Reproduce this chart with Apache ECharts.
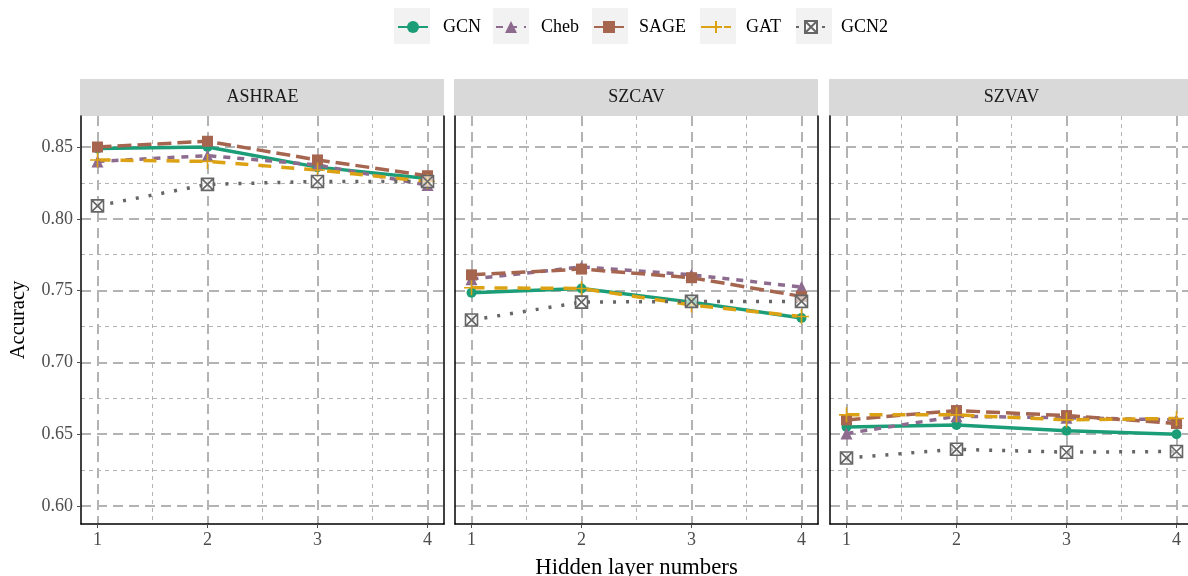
<!DOCTYPE html>
<html lang="en">
<head>
    <meta charset="UTF-8">
    <title>Accuracy vs hidden layers</title>
    <script src="https://cdn.jsdelivr.net/npm/echarts@6/dist/echarts.min.js"></script>
    <style>
        html, body { margin: 0; padding: 0; background: #fff; }
        #main { width: 1188px; height: 576px; }
    </style>
</head>
<body>
<div id="main"></div>
<script type="text/javascript">
    // data
    var hidden = [1, 2, 3, 4];
    var datasets = ['ASHRAE', 'SZCAV', 'SZVAV'];
    var models = ['GCN', 'Cheb', 'SAGE', 'GAT', 'GCN2'];

    var ashrae_gcn  = [0.849, 0.850, 0.836, 0.828];
    var ashrae_cheb = [0.840, 0.844, 0.8375, 0.8235];
    var ashrae_sage = [0.850, 0.854, 0.841, 0.830];
    var ashrae_gat  = [0.841, 0.840, 0.834, 0.826];
    var ashrae_gcn2 = [0.809, 0.824, 0.826, 0.826];

    var szcav_gcn  = [0.7485, 0.7515, 0.742, 0.731];
    var szcav_cheb = [0.758, 0.7665, 0.761, 0.7525];
    var szcav_sage = [0.761, 0.765, 0.759, 0.746];
    var szcav_gat  = [0.752, 0.7515, 0.740, 0.732];
    var szcav_gcn2 = [0.7295, 0.742, 0.7425, 0.7425];

    var szvav_gcn  = [0.655, 0.6565, 0.6525, 0.650];
    var szvav_cheb = [0.6505, 0.6625, 0.6615, 0.660];
    var szvav_sage = [0.660, 0.6665, 0.663, 0.6575];
    var szvav_gat  = [0.6635, 0.6635, 0.660, 0.661];
    var szvav_gcn2 = [0.6335, 0.6395, 0.6375, 0.638];

    var yMajor = [0.60, 0.65, 0.70, 0.75, 0.80, 0.85];
    var yMinor = [0.625, 0.675, 0.725, 0.775, 0.825];
    var xMinor = [1.5, 2.5, 3.5];

    var panelValues = [
        [ashrae_gcn, ashrae_cheb, ashrae_sage, ashrae_gat, ashrae_gcn2],
        [szcav_gcn, szcav_cheb, szcav_sage, szcav_gat, szcav_gcn2],
        [szvav_gcn, szvav_cheb, szvav_sage, szvav_gat, szvav_gcn2]
    ];

    var FONT = 'Liberation Serif';
    var colors = ['#1b9e77', '#8d6b8e', '#a6654f', '#dca214', '#666666'];
    var dashes = ['solid', [7, 7], [14, 6], [13, 10], [3, 10]];
    var symbols = [
        'circle',
        'triangle',
        'rect',
        'path://M5,0L5,10M0,5L10,5',
        'path://M0,0L10,0L10,10L0,10ZM0,0L10,10M10,0L0,10'
    ];
    var symbolSizes = [10, 12, 11, 15, 12];

    var panelLeft = [81, 455, 830];
    var panelW = 363, panelTop = 116, panelH = 408;

    var chart = echarts.init(document.getElementById('main'));

    var grids = [], xAxes = [], yAxes = [], series = [], graphics = [];
    var majorLine = {show: true, lineStyle: {color: '#b3b3b3', width: 2, type: [10, 6]}};
    var minorLine = {show: true, lineStyle: {color: '#b3b3b3', width: 1, type: [4, 4]}};

    for (var p = 0; p < 3; p++) {
        grids.push({left: panelLeft[p], top: panelTop, width: panelW, height: panelH,
            outerBoundsMode: 'none', containLabel: false});
        // main x axis
        xAxes.push({
            gridIndex: p, type: 'value', min: 0.85, max: 4.15, position: 'bottom',
            name: p === 1 ? 'Hidden layer numbers' : '',
            nameLocation: 'middle', nameGap: 33,
            nameTextStyle: {fontFamily: FONT, fontSize: 22.8, color: '#000'},
            axisLine: {show: true, lineStyle: {color: '#000', width: 1.5}},
            axisTick: {show: true, customValues: hidden, length: 4, lineStyle: {color: '#4d4d4d', width: 1}},
            axisLabel: {customValues: hidden, color: '#4d4d4d', fontFamily: FONT, fontSize: 18, margin: 7},
            splitLine: majorLine
        });
        // minor x grid
        xAxes.push({
            gridIndex: p, type: 'value', min: 0.85, max: 4.15, position: 'top',
            axisLine: {show: false},
            axisTick: {show: false, customValues: xMinor},
            axisLabel: {show: false, customValues: xMinor},
            splitLine: minorLine
        });
        yAxes.push({
            gridIndex: p, type: 'value', min: 0.5875, max: 0.8716, position: 'left',
            name: p === 0 ? 'Accuracy' : '',
            nameLocation: 'middle', nameGap: 52,
            nameTextStyle: {fontFamily: FONT, fontSize: 20.5, color: '#000'},
            axisLine: {show: true, lineStyle: {color: '#000', width: 1.5}},
            axisTick: {show: p === 0, customValues: yMajor, length: 4, lineStyle: {color: '#4d4d4d', width: 1}},
            axisLabel: {show: p === 0, customValues: yMajor, color: '#4d4d4d', fontFamily: FONT, fontSize: 18, margin: 8,
                formatter: function (v) { return v.toFixed(2); }},
            splitLine: majorLine
        });
        yAxes.push({
            gridIndex: p, type: 'value', min: 0.5875, max: 0.8716, position: 'right',
            axisLine: {show: true, lineStyle: {color: '#000', width: 1.5}},
            axisTick: {show: false, customValues: yMinor},
            axisLabel: {show: false, customValues: yMinor},
            splitLine: minorLine
        });

        for (var m = 0; m < models.length; m++) {
            var pts = hidden.map(function (h, k) { return [h, panelValues[p][m][k]]; });
            var outline = m >= 3;
            series.push({
                name: models[m], type: 'line',
                xAxisIndex: p * 2, yAxisIndex: p * 2,
                data: pts,
                symbol: symbols[m], symbolSize: symbolSizes[m],
                showSymbol: true,
                lineStyle: {color: colors[m], width: 3.5, type: dashes[m], cap: 'butt'},
                itemStyle: outline
                    ? {color: m === 4 ? 'rgba(255,255,255,0.6)' : 'rgba(255,255,255,0)', borderColor: colors[m], borderWidth: 1.6}
                    : {color: colors[m], borderWidth: 0},
                emphasis: {disabled: true},
                animation: false
            });
        }

        // facet strip
        graphics.push({
            type: 'rect', left: panelLeft[p] - 1, top: 79,
            shape: {width: panelW + 1, height: 37},
            style: {fill: '#d9d9d9'}, z: 0
        });
        graphics.push({
            type: 'text', x: panelLeft[p] + panelW / 2, y: 97,
            style: {text: datasets[p], font: '18px "Liberation Serif"', fill: '#1a1a1a',
                textAlign: 'center', textVerticalAlign: 'middle'}, z: 1
        });
    }

    // grey key backgrounds of the legend
    var keyBoxes = [394, 493, 592, 700, 796];
    keyBoxes.forEach(function (x) {
        graphics.push({type: 'rect', left: x, top: 8, shape: {width: 36, height: 36},
            style: {fill: '#f2f2f2'}, z: -1});
    });

    var option = {
        animation: false,
        backgroundColor: '#ffffff',
        legend: {
            data: models,
            left: 397, top: 18, padding: 0,
            itemWidth: 30, itemHeight: 15, itemGap: 14,
            textStyle: {fontFamily: FONT, fontSize: 18, color: '#000', padding: [0, 0, 0, 10]},
            selectedMode: false
        },
        grid: grids,
        xAxis: xAxes,
        yAxis: yAxes,
        series: series,
        graphic: graphics
    };
    chart.setOption(option);
</script>
</body>
</html>
